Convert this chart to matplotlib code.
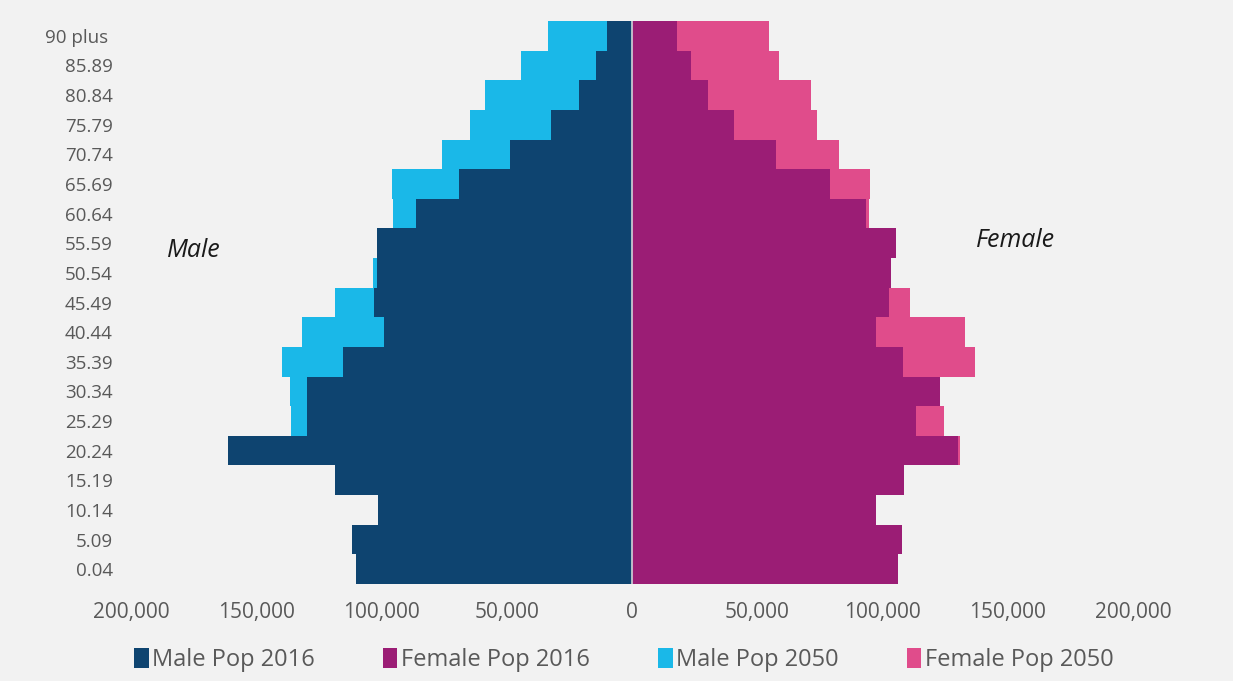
import numpy as np
import matplotlib
matplotlib.use("Agg")
import matplotlib.pyplot as plt
from matplotlib.ticker import FuncFormatter

plt.rcParams["font.family"] = ["Open Sans", "DejaVu Sans"]

# age groups, bottom to top
ages = ["0.04", "5.09", "10.14", "15.19", "20.24", "25.29", "30.34", "35.39",
        "40.44", "45.49", "50.54", "55.59", "60.64", "65.69", "70.74",
        "75.79", "80.84", "85.89", "90 plus "]

male_2016 = [110.2, 111.8, 101.4, 118.6, 161.3, 129.7, 129.7, 115.4, 99.0, 103.0,
             101.8, 101.8, 86.2, 69.1, 48.7, 32.3, 21.2, 14.4, 10.0]
female_2016 = [106.2, 107.8, 97.4, 108.6, 130.1, 113.4, 123.0, 108.2, 97.4, 102.6,
               103.4, 105.4, 93.4, 79.0, 57.5, 40.7, 30.3, 23.6, 18.0]
male_2050 = [88.0, 90.0, 95.0, 110.0, 130.0, 136.1, 136.5, 139.7, 131.7, 118.6,
             103.4, 98.0, 95.4, 95.8, 75.8, 64.7, 58.7, 44.3, 33.5]
female_2050 = [85.0, 88.0, 92.0, 100.0, 130.9, 124.6, 118.0, 136.9, 132.9, 111.0,
               98.0, 100.0, 94.6, 95.0, 82.6, 73.9, 71.5, 58.7, 54.7]

male_2016 = np.array(male_2016) * 1000
female_2016 = np.array(female_2016) * 1000
male_2050 = np.array(male_2050) * 1000
female_2050 = np.array(female_2050) * 1000

c_m16 = "#0e4470"
c_f16 = "#9b1d75"
c_m50 = "#1ab8e8"
c_f50 = "#e04c8b"
grey = "#595959"

fig = plt.figure(figsize=(12.33, 6.81), dpi=100, facecolor="#f2f2f2")
ax = fig.add_axes([131 / 1233, 1 - 584 / 681, 1002 / 1233, 563 / 681])
ax.set_facecolor("#f2f2f2")

y = np.arange(len(ages))
# 2050 behind, 2016 in front
ax.barh(y, -male_2050, height=1.0, color=c_m50, label="Male Pop 2050", zorder=1)
ax.barh(y, female_2050, height=1.0, color=c_f50, label="Female Pop 2050", zorder=1)
ax.barh(y, -male_2016, height=1.0, color=c_m16, label="Male Pop 2016", zorder=2)
ax.barh(y, female_2016, height=1.0, color=c_f16, label="Female Pop 2016", zorder=2)
ax.axvline(0, color="#d0d4d8", lw=1.2, zorder=3)

ax.set_xlim(-200000, 200000)
ax.set_ylim(-0.5, len(ages) - 0.5)
ax.set_xticks(np.arange(-200000, 200001, 50000))
ax.xaxis.set_major_formatter(FuncFormatter(lambda v, p: f"{abs(v):,.0f}"))
ax.set_yticks(y)
ax.set_yticklabels(ages)
ax.tick_params(axis="x", length=0, labelsize=15, colors=grey, pad=13)
ax.tick_params(axis="y", length=0, labelsize=13.5, colors=grey, pad=13)
for s in ax.spines.values():
    s.set_visible(False)

ax.text(-185500, 10.77, "Male", fontsize=18, style="italic", color="#1a1a1a",
        va="center")
ax.text(137500, 11.08, "Female", fontsize=18, style="italic", color="#1a1a1a",
        va="center")

handles, labels = ax.get_legend_handles_labels()
order = [2, 3, 0, 1]
fig.legend([handles[i] for i in order], [labels[i] for i in order],
           loc="center", bbox_to_anchor=(624 / 1233, 1 - 660 / 681), ncol=4,
           frameon=False, fontsize=17, labelcolor=grey, handlelength=0.6,
           handleheight=0.9, handletextpad=0.15, columnspacing=2.9)

fig.savefig("out.png", dpi=100, facecolor=fig.get_facecolor())
